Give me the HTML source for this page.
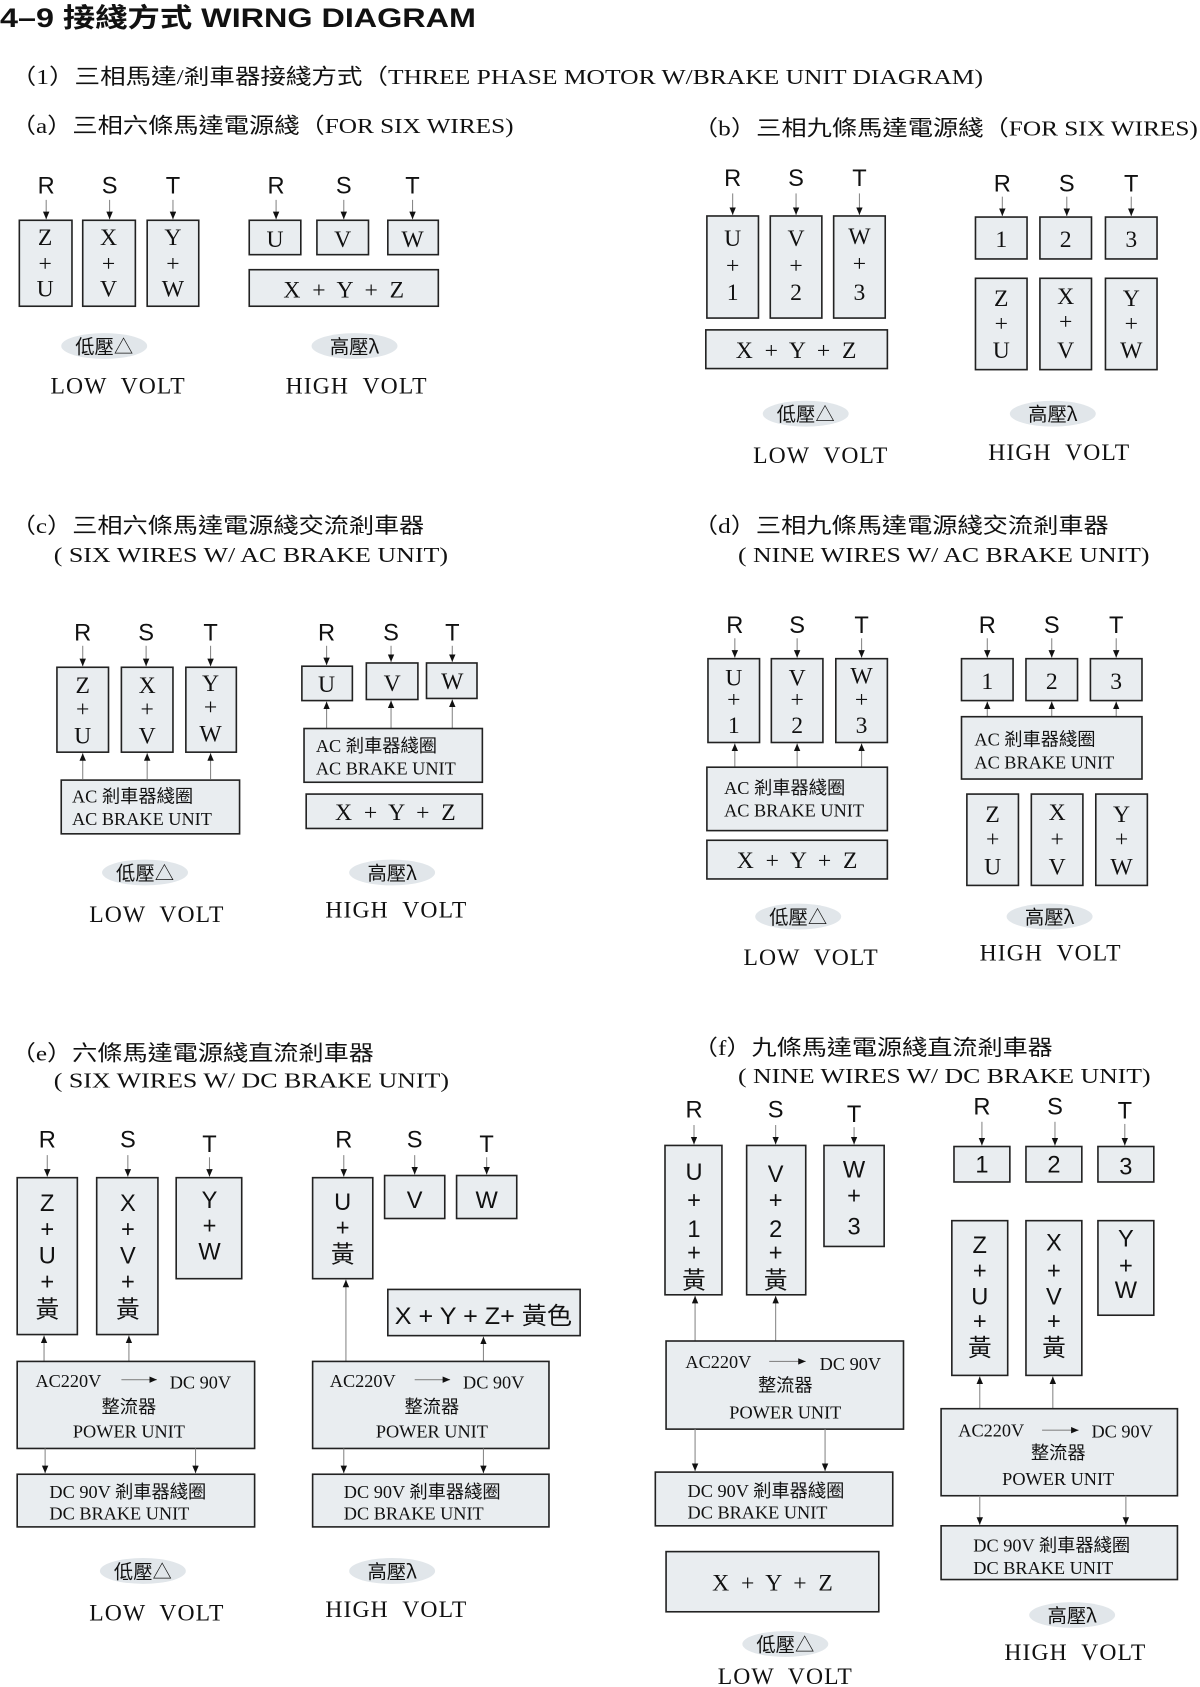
<!DOCTYPE html>
<html><head><meta charset="utf-8"><style>
html,body{margin:0;padding:0;background:#fff;}
svg{display:block;}
.b{fill:#e9edf0;stroke:#222;stroke-width:1.5;}
.e{fill:#e1e6ea;}
.s{font-family:"Liberation Serif","Noto Sans CJK TC",serif;font-size:22px;text-anchor:middle;fill:#111;white-space:pre;}
.sl{font-family:"Liberation Serif","Noto Sans CJK TC",serif;font-size:17px;fill:#111;}
.slc{font-family:"Liberation Serif","Noto Sans CJK TC",serif;font-size:17px;fill:#111;text-anchor:middle;}
.g{font-family:"Liberation Sans","Noto Sans CJK TC",sans-serif;font-size:22px;text-anchor:middle;fill:#111;}
.h{font-family:"Liberation Serif","Noto Sans CJK TC",serif;font-size:20px;fill:#111;}
.p{font-family:"Noto Sans CJK TC","Liberation Sans",sans-serif;font-size:18px;text-anchor:middle;fill:#111;}
.v{font-family:"Liberation Serif",serif;font-size:22px;text-anchor:middle;fill:#111;letter-spacing:1px;white-space:pre;}
.w{stroke:#888;stroke-width:1;marker-end:url(#ah);}
</style></head><body>
<svg width="1200" height="1687" viewBox="0 0 1117 1570" preserveAspectRatio="none" xmlns="http://www.w3.org/2000/svg" xml:space="preserve">
<defs><marker id="ah" markerWidth="8" markerHeight="8" refX="7" refY="3" orient="auto" markerUnits="userSpaceOnUse"><path d="M0,0 L7,3 L0,6 z" fill="#111"/></marker></defs>

<text x="0" y="25" style="font-family:'Liberation Sans','Noto Sans CJK TC',sans-serif;font-weight:bold;font-size:25px;fill:#111" textLength="443" lengthAdjust="spacingAndGlyphs">4–9 接綫方式 WIRNG DIAGRAM</text>
<text class="h" x="10" y="78" textLength="905" lengthAdjust="spacingAndGlyphs">（1）三相馬達/剎車器接綫方式（THREE PHASE MOTOR W/BRAKE UNIT DIAGRAM)</text>
<text class="h" x="10" y="124" textLength="468" lengthAdjust="spacingAndGlyphs">（a）三相六條馬達電源綫（FOR SIX WIRES)</text>
<text class="h" x="645" y="126" textLength="470" lengthAdjust="spacingAndGlyphs">（b）三相九條馬達電源綫（FOR SIX WIRES)</text>

<!-- (a) low -->
<text class="g" x="43" y="180">R</text><text class="g" x="102" y="180">S</text><text class="g" x="161" y="180">T</text>
<line class="w" x1="43" y1="186" x2="43" y2="204"/><line class="w" x1="102" y1="186" x2="102" y2="204"/><line class="w" x1="161" y1="186" x2="161" y2="204"/>
<rect class="b" x="18" y="205" width="49" height="80"/><rect class="b" x="77" y="205" width="49" height="80"/><rect class="b" x="137" y="205" width="48" height="80"/>
<text class="s" x="42" y="228">Z</text><text class="s" x="42" y="252">+</text><text class="s" x="42" y="276">U</text>
<text class="s" x="101" y="228">X</text><text class="s" x="101" y="252">+</text><text class="s" x="101" y="276">V</text>
<text class="s" x="161" y="228">Y</text><text class="s" x="161" y="252">+</text><text class="s" x="161" y="276">W</text>
<!-- (a) high -->
<text class="g" x="257" y="180">R</text><text class="g" x="320" y="180">S</text><text class="g" x="384" y="180">T</text>
<line class="w" x1="257" y1="186" x2="257" y2="204"/><line class="w" x1="320" y1="186" x2="320" y2="204"/><line class="w" x1="384" y1="186" x2="384" y2="204"/>
<rect class="b" x="232" y="205" width="48" height="32"/><rect class="b" x="295" y="205" width="48" height="32"/><rect class="b" x="361" y="205" width="47" height="32"/>
<text class="s" x="256" y="230">U</text><text class="s" x="319" y="230">V</text><text class="s" x="384" y="230">W</text>
<rect class="b" x="232" y="251" width="176" height="34"/>
<text class="s" x="320" y="277">X  +  Y  +  Z</text>
<ellipse class="e" cx="97" cy="322" rx="40" ry="12"/><text class="p" x="97" y="329">低壓△</text>
<ellipse class="e" cx="330" cy="322" rx="40" ry="12"/><text class="p" x="330" y="329">高壓λ</text>
<text class="v" x="110" y="366">LOW  VOLT</text><text class="v" x="332" y="366">HIGH  VOLT</text>

<!-- (b) low -->
<text class="g" x="682" y="173">R</text><text class="g" x="741" y="173">S</text><text class="g" x="800" y="173">T</text>
<line class="w" x1="682" y1="180" x2="682" y2="200"/><line class="w" x1="741" y1="180" x2="741" y2="200"/><line class="w" x1="800" y1="180" x2="800" y2="200"/>
<rect class="b" x="658" y="201" width="48" height="95"/><rect class="b" x="717" y="201" width="48" height="95"/><rect class="b" x="776" y="201" width="48" height="95"/>
<text class="s" x="682" y="229">U</text><text class="s" x="682" y="254">+</text><text class="s" x="682" y="279">1</text>
<text class="s" x="741" y="229">V</text><text class="s" x="741" y="254">+</text><text class="s" x="741" y="279">2</text>
<text class="s" x="800" y="227">W</text><text class="s" x="800" y="252">+</text><text class="s" x="800" y="279">3</text>
<rect class="b" x="657" y="307" width="169" height="36"/><text class="s" x="741" y="333">X  +  Y  +  Z</text>
<!-- (b) high -->
<text class="g" x="933" y="178">R</text><text class="g" x="993" y="178">S</text><text class="g" x="1053" y="178">T</text>
<line class="w" x1="933" y1="183" x2="933" y2="201"/><line class="w" x1="993" y1="183" x2="993" y2="201"/><line class="w" x1="1053" y1="183" x2="1053" y2="201"/>
<rect class="b" x="908" y="202" width="48" height="39"/><rect class="b" x="968" y="202" width="48" height="39"/><rect class="b" x="1029" y="202" width="48" height="39"/>
<text class="s" x="932" y="230">1</text><text class="s" x="992" y="230">2</text><text class="s" x="1053" y="230">3</text>
<rect class="b" x="908" y="259" width="48" height="85"/><rect class="b" x="968" y="259" width="48" height="85"/><rect class="b" x="1029" y="259" width="48" height="85"/>
<text class="s" x="932" y="285">Z</text><text class="s" x="932" y="308">+</text><text class="s" x="932" y="333">U</text>
<text class="s" x="992" y="283">X</text><text class="s" x="992" y="306">+</text><text class="s" x="992" y="333">V</text>
<text class="s" x="1053" y="285">Y</text><text class="s" x="1053" y="308">+</text><text class="s" x="1053" y="333">W</text>
<ellipse class="e" cx="750" cy="385" rx="40" ry="12"/><text class="p" x="750" y="392">低壓△</text>
<ellipse class="e" cx="980" cy="385" rx="40" ry="12"/><text class="p" x="980" y="392">高壓λ</text>
<text class="v" x="764" y="431">LOW  VOLT</text><text class="v" x="986" y="428">HIGH  VOLT</text>

<!-- (c) -->
<text class="h" x="10" y="496" textLength="385" lengthAdjust="spacingAndGlyphs">（c）三相六條馬達電源綫交流剎車器</text>
<text class="h" x="50" y="523" textLength="367" lengthAdjust="spacingAndGlyphs">( SIX WIRES W/ AC BRAKE UNIT)</text>
<text class="h" x="645" y="496" textLength="387" lengthAdjust="spacingAndGlyphs">（d）三相九條馬達電源綫交流剎車器</text>
<text class="h" x="687" y="523" textLength="383" lengthAdjust="spacingAndGlyphs">( NINE WIRES W/ AC BRAKE UNIT)</text>

<text class="g" x="77" y="596">R</text><text class="g" x="136" y="596">S</text><text class="g" x="196" y="596">T</text>
<line class="w" x1="77" y1="601" x2="77" y2="620"/><line class="w" x1="136" y1="601" x2="136" y2="620"/><line class="w" x1="196" y1="601" x2="196" y2="620"/>
<rect class="b" x="53" y="621" width="48" height="79"/><rect class="b" x="113" y="621" width="48" height="79"/><rect class="b" x="173" y="621" width="47" height="79"/>
<text class="s" x="77" y="645">Z</text><text class="s" x="77" y="667">+</text><text class="s" x="77" y="692">U</text>
<text class="s" x="137" y="645">X</text><text class="s" x="137" y="667">+</text><text class="s" x="137" y="692">V</text>
<text class="s" x="196" y="643">Y</text><text class="s" x="196" y="665">+</text><text class="s" x="196" y="690">W</text>
<line class="w" x1="77" y1="725" x2="77" y2="701"/><line class="w" x1="137" y1="725" x2="137" y2="701"/><line class="w" x1="196" y1="725" x2="196" y2="701"/>
<rect class="b" x="57" y="726" width="166" height="50"/>
<text class="sl" x="67" y="747">AC 剎車器綫圈</text><text class="sl" x="67" y="768">AC BRAKE UNIT</text>

<text class="g" x="304" y="596">R</text><text class="g" x="364" y="596">S</text><text class="g" x="421" y="596">T</text>
<line class="w" x1="304" y1="601" x2="304" y2="619"/><line class="w" x1="364" y1="601" x2="364" y2="616"/><line class="w" x1="421" y1="601" x2="421" y2="616"/>
<rect class="b" x="281" y="620" width="47" height="32"/><rect class="b" x="341" y="617" width="48" height="34"/><rect class="b" x="397" y="617" width="47" height="33"/>
<text class="s" x="304" y="644">U</text><text class="s" x="365" y="643">V</text><text class="s" x="421" y="641">W</text>
<line class="w" x1="304" y1="678" x2="304" y2="653"/><line class="w" x1="364" y1="678" x2="364" y2="652"/><line class="w" x1="421" y1="678" x2="421" y2="651"/>
<rect class="b" x="283" y="678" width="166" height="50"/>
<text class="sl" x="294" y="700">AC 剎車器綫圈</text><text class="sl" x="294" y="721">AC BRAKE UNIT</text>
<rect class="b" x="285" y="739" width="164" height="32"/><text class="s" x="368" y="763">X  +  Y  +  Z</text>
<ellipse class="e" cx="135" cy="812" rx="40" ry="12"/><text class="p" x="135" y="819">低壓△</text>
<ellipse class="e" cx="365" cy="812" rx="40" ry="12"/><text class="p" x="365" y="819">高壓λ</text>
<text class="v" x="146" y="858">LOW  VOLT</text><text class="v" x="369" y="854">HIGH  VOLT</text>

<!-- (d) -->
<text class="g" x="684" y="589">R</text><text class="g" x="742" y="589">S</text><text class="g" x="802" y="589">T</text>
<line class="w" x1="684" y1="594" x2="684" y2="612"/><line class="w" x1="742" y1="594" x2="742" y2="612"/><line class="w" x1="802" y1="594" x2="802" y2="612"/>
<rect class="b" x="659" y="613" width="48" height="78"/><rect class="b" x="718" y="613" width="48" height="78"/><rect class="b" x="778" y="613" width="48" height="78"/>
<text class="s" x="683" y="638">U</text><text class="s" x="683" y="658">+</text><text class="s" x="683" y="682">1</text>
<text class="s" x="742" y="638">V</text><text class="s" x="742" y="658">+</text><text class="s" x="742" y="682">2</text>
<text class="s" x="802" y="636">W</text><text class="s" x="802" y="658">+</text><text class="s" x="802" y="682">3</text>
<line class="w" x1="684" y1="714" x2="684" y2="692"/><line class="w" x1="742" y1="714" x2="742" y2="692"/><line class="w" x1="802" y1="714" x2="802" y2="692"/>
<rect class="b" x="658" y="714" width="168" height="59"/>
<text class="sl" x="674" y="739">AC 剎車器綫圈</text><text class="sl" x="674" y="760">AC BRAKE UNIT</text>
<rect class="b" x="658" y="782" width="168" height="36"/><text class="s" x="742" y="808">X  +  Y  +  Z</text>

<text class="g" x="919" y="589">R</text><text class="g" x="979" y="589">S</text><text class="g" x="1039" y="589">T</text>
<line class="w" x1="919" y1="594" x2="919" y2="612"/><line class="w" x1="979" y1="594" x2="979" y2="612"/><line class="w" x1="1039" y1="594" x2="1039" y2="612"/>
<rect class="b" x="895" y="613" width="48" height="39"/><rect class="b" x="955" y="613" width="48" height="39"/><rect class="b" x="1015" y="613" width="48" height="39"/>
<text class="s" x="919" y="641">1</text><text class="s" x="979" y="641">2</text><text class="s" x="1039" y="641">3</text>
<line class="w" x1="919" y1="667" x2="919" y2="653"/><line class="w" x1="979" y1="667" x2="979" y2="653"/><line class="w" x1="1039" y1="667" x2="1039" y2="653"/>
<rect class="b" x="895" y="667" width="168" height="58"/>
<text class="sl" x="907" y="694">AC 剎車器綫圈</text><text class="sl" x="907" y="715">AC BRAKE UNIT</text>
<rect class="b" x="900" y="739" width="48" height="85"/><rect class="b" x="960" y="739" width="48" height="85"/><rect class="b" x="1020" y="739" width="48" height="85"/>
<text class="s" x="924" y="765">Z</text><text class="s" x="924" y="788">+</text><text class="s" x="924" y="814">U</text>
<text class="s" x="984" y="763">X</text><text class="s" x="984" y="788">+</text><text class="s" x="984" y="814">V</text>
<text class="s" x="1044" y="765">Y</text><text class="s" x="1044" y="788">+</text><text class="s" x="1044" y="814">W</text>
<ellipse class="e" cx="743" cy="853" rx="40" ry="12"/><text class="p" x="743" y="860">低壓△</text>
<ellipse class="e" cx="977" cy="853" rx="40" ry="12"/><text class="p" x="977" y="860">高壓λ</text>
<text class="v" x="755" y="898">LOW  VOLT</text><text class="v" x="978" y="894">HIGH  VOLT</text>

<!-- (e) -->
<text class="h" x="10" y="987" textLength="338" lengthAdjust="spacingAndGlyphs">（e）六條馬達電源綫直流剎車器</text>
<text class="h" x="50" y="1012" textLength="368" lengthAdjust="spacingAndGlyphs">( SIX WIRES W/ DC BRAKE UNIT)</text>
<text class="h" x="645" y="982" textLength="335" lengthAdjust="spacingAndGlyphs">（f）九條馬達電源綫直流剎車器</text>
<text class="h" x="687" y="1008" textLength="384" lengthAdjust="spacingAndGlyphs">( NINE WIRES W/ DC BRAKE UNIT)</text>

<text class="g" x="44" y="1068">R</text><text class="g" x="119" y="1068">S</text><text class="g" x="195" y="1072">T</text>
<line class="w" x1="44" y1="1075" x2="44" y2="1095"/><line class="w" x1="119" y1="1075" x2="119" y2="1095"/><line class="w" x1="195" y1="1077" x2="195" y2="1095"/>
<rect class="b" x="16" y="1096" width="56" height="146"/><rect class="b" x="90" y="1096" width="57" height="146"/><rect class="b" x="164" y="1096" width="61" height="94"/>
<text class="g" x="44" y="1127">Z</text><text class="g" x="44" y="1151">+</text><text class="g" x="44" y="1176">U</text><text class="g" x="44" y="1200">+</text><text class="g" x="44" y="1226">黃</text>
<text class="g" x="119" y="1127">X</text><text class="g" x="119" y="1151">+</text><text class="g" x="119" y="1176">V</text><text class="g" x="119" y="1200">+</text><text class="g" x="119" y="1226">黃</text>
<text class="g" x="195" y="1124">Y</text><text class="g" x="195" y="1148">+</text><text class="g" x="195" y="1172">W</text>
<line class="w" x1="41" y1="1267" x2="41" y2="1243"/><line class="w" x1="120" y1="1267" x2="120" y2="1243"/>
<rect class="b" x="16" y="1267" width="221" height="81"/>
<text class="sl" x="33" y="1291">AC220V</text><line class="w" x1="113" y1="1284" x2="146" y2="1284"/><text class="sl" x="158" y="1292">DC 90V</text>
<text class="slc" x="120" y="1315">整流器</text><text class="slc" x="120" y="1338">POWER UNIT</text>
<line class="w" x1="42" y1="1348" x2="42" y2="1371"/><line class="w" x1="182" y1="1348" x2="182" y2="1371"/>
<rect class="b" x="16" y="1372" width="221" height="49"/>
<text class="sl" x="46" y="1394">DC 90V 剎車器綫圈</text><text class="sl" x="46" y="1414">DC BRAKE UNIT</text>

<text class="g" x="320" y="1068">R</text><text class="g" x="386" y="1068">S</text><text class="g" x="453" y="1072">T</text>
<line class="w" x1="320" y1="1075" x2="320" y2="1095"/><line class="w" x1="386" y1="1075" x2="386" y2="1093"/><line class="w" x1="453" y1="1077" x2="453" y2="1093"/>
<rect class="b" x="291" y="1096" width="56" height="94"/><rect class="b" x="358" y="1094" width="56" height="40"/><rect class="b" x="425" y="1094" width="56" height="40"/>
<text class="g" x="319" y="1126">U</text><text class="g" x="319" y="1150">+</text><text class="g" x="319" y="1175">黃</text>
<text class="g" x="386" y="1124">V</text><text class="g" x="453" y="1124">W</text>
<rect class="b" x="361" y="1200" width="179" height="43"/>
<text class="g" x="450" y="1232" textLength="165" lengthAdjust="spacingAndGlyphs">X + Y +  Z+ 黃色</text>
<line class="w" x1="322" y1="1267" x2="322" y2="1191"/><line class="w" x1="450" y1="1267" x2="450" y2="1244"/>
<rect class="b" x="291" y="1267" width="220" height="81"/>
<text class="sl" x="307" y="1291">AC220V</text><line class="w" x1="386" y1="1284" x2="419" y2="1284"/><text class="sl" x="431" y="1292">DC 90V</text>
<text class="slc" x="402" y="1315">整流器</text><text class="slc" x="402" y="1338">POWER UNIT</text>
<line class="w" x1="320" y1="1348" x2="320" y2="1371"/><line class="w" x1="450" y1="1348" x2="450" y2="1371"/>
<rect class="b" x="291" y="1372" width="220" height="49"/>
<text class="sl" x="320" y="1394">DC 90V 剎車器綫圈</text><text class="sl" x="320" y="1414">DC BRAKE UNIT</text>
<ellipse class="e" cx="133" cy="1462" rx="40" ry="12"/><text class="p" x="133" y="1469">低壓△</text>
<ellipse class="e" cx="365" cy="1462" rx="40" ry="12"/><text class="p" x="365" y="1469">高壓λ</text>
<text class="v" x="146" y="1508">LOW  VOLT</text><text class="v" x="369" y="1505">HIGH  VOLT</text>

<!-- (f) low -->
<text class="g" x="646" y="1040">R</text><text class="g" x="722" y="1040">S</text><text class="g" x="795" y="1044">T</text>
<line class="w" x1="646" y1="1047" x2="646" y2="1065"/><line class="w" x1="722" y1="1047" x2="722" y2="1065"/><line class="w" x1="795" y1="1049" x2="795" y2="1065"/>
<rect class="b" x="619" y="1066" width="53" height="139"/><rect class="b" x="695" y="1066" width="55" height="139"/><rect class="b" x="767" y="1066" width="56" height="94"/>
<text class="g" x="646" y="1098">U</text><text class="g" x="646" y="1124">+</text><text class="g" x="646" y="1151">1</text><text class="g" x="646" y="1173">+</text><text class="g" x="646" y="1199">黃</text>
<text class="g" x="722" y="1100">V</text><text class="g" x="722" y="1124">+</text><text class="g" x="722" y="1151">2</text><text class="g" x="722" y="1173">+</text><text class="g" x="722" y="1199">黃</text>
<text class="g" x="795" y="1096">W</text><text class="g" x="795" y="1120">+</text><text class="g" x="795" y="1149">3</text>
<line class="w" x1="647" y1="1248" x2="647" y2="1206"/><line class="w" x1="722" y1="1248" x2="722" y2="1206"/>
<rect class="b" x="620" y="1248" width="221" height="82"/>
<text class="sl" x="638" y="1273">AC220V</text><line class="w" x1="716" y1="1267" x2="750" y2="1267"/><text class="sl" x="763" y="1275">DC 90V</text>
<text class="slc" x="731" y="1295">整流器</text><text class="slc" x="731" y="1320">POWER UNIT</text>
<line class="w" x1="647" y1="1330" x2="647" y2="1369"/><line class="w" x1="768" y1="1330" x2="768" y2="1369"/>
<rect class="b" x="610" y="1370" width="221" height="50"/>
<text class="sl" x="640" y="1393">DC 90V 剎車器綫圈</text><text class="sl" x="640" y="1413">DC BRAKE UNIT</text>
<rect class="b" x="620" y="1444" width="198" height="56"/><text class="s" x="719" y="1480">X  +  Y  +  Z</text>
<ellipse class="e" cx="731" cy="1530" rx="40" ry="12"/><text class="p" x="731" y="1537">低壓△</text>
<text class="v" x="731" y="1567">LOW  VOLT</text>

<!-- (f) high -->
<text class="g" x="914" y="1037">R</text><text class="g" x="982" y="1037">S</text><text class="g" x="1047" y="1041">T</text>
<line class="w" x1="914" y1="1044" x2="914" y2="1066"/><line class="w" x1="982" y1="1044" x2="982" y2="1066"/><line class="w" x1="1047" y1="1046" x2="1047" y2="1066"/>
<rect class="b" x="888" y="1067" width="52" height="33"/><rect class="b" x="955" y="1067" width="52" height="33"/><rect class="b" x="1022" y="1067" width="52" height="33"/>
<text class="g" x="914" y="1091">1</text><text class="g" x="981" y="1091">2</text><text class="g" x="1048" y="1093">3</text>
<rect class="b" x="886" y="1136" width="52" height="144"/><rect class="b" x="955" y="1136" width="52" height="144"/><rect class="b" x="1022" y="1136" width="52" height="88"/>
<text class="g" x="912" y="1166">Z</text><text class="g" x="912" y="1190">+</text><text class="g" x="912" y="1214">U</text><text class="g" x="912" y="1237">+</text><text class="g" x="912" y="1262">黃</text>
<text class="g" x="981" y="1164">X</text><text class="g" x="981" y="1190">+</text><text class="g" x="981" y="1214">V</text><text class="g" x="981" y="1237">+</text><text class="g" x="981" y="1262">黃</text>
<text class="g" x="1048" y="1160">Y</text><text class="g" x="1048" y="1185">+</text><text class="g" x="1048" y="1208">W</text>
<line class="w" x1="912" y1="1311" x2="912" y2="1281"/><line class="w" x1="980" y1="1311" x2="980" y2="1281"/>
<rect class="b" x="876" y="1311" width="220" height="81"/>
<text class="sl" x="892" y="1337">AC220V</text><line class="w" x1="970" y1="1331" x2="1004" y2="1331"/><text class="sl" x="1016" y="1338">DC 90V</text>
<text class="slc" x="985" y="1358">整流器</text><text class="slc" x="985" y="1382">POWER UNIT</text>
<line class="w" x1="912" y1="1392" x2="912" y2="1419"/><line class="w" x1="1048" y1="1392" x2="1048" y2="1419"/>
<rect class="b" x="876" y="1420" width="220" height="50"/>
<text class="sl" x="906" y="1444">DC 90V 剎車器綫圈</text><text class="sl" x="906" y="1465">DC BRAKE UNIT</text>
<ellipse class="e" cx="998" cy="1503" rx="40" ry="12"/><text class="p" x="998" y="1510">高壓λ</text>
<text class="v" x="1001" y="1545">HIGH  VOLT</text>
</svg>
</body></html>
